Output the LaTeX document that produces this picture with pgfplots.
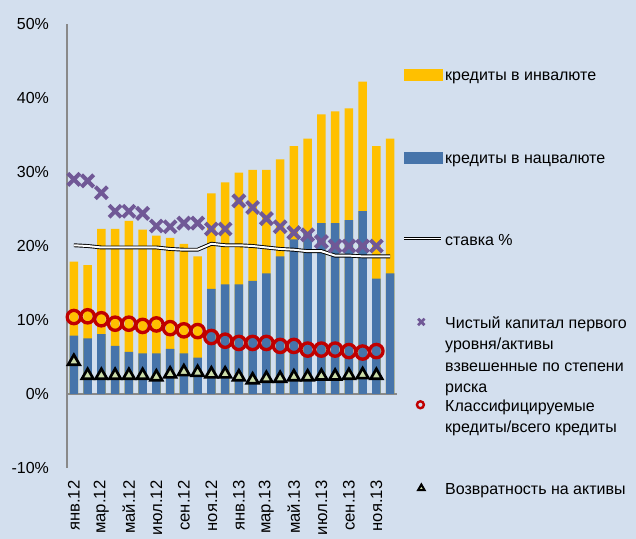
\documentclass[border=0pt]{standalone}
\usepackage{pgfplots}
\usepackage{pgfplotstable}
\pgfplotsset{compat=1.18}
\usepackage{fontspec}
\setmainfont{Liberation Sans}
\definecolor{bg}{RGB}{211,223,238}
\definecolor{barblue}{RGB}{70,116,170}
\definecolor{barorange}{RGB}{255,192,0}
\definecolor{xpurple}{RGB}{112,88,150}
\definecolor{cred}{RGB}{192,0,0}
\definecolor{tgreen}{RGB}{205,222,170}
\definecolor{axgray}{RGB}{137,137,137}

\pgfplotstableread{
x blue total
0 7.9 17.9
1 7.5 17.4
2 8.1 22.3
3 6.5 22.3
4 5.7 23.4
5 5.5 22.2
6 5.5 21.4
7 6.1 21.1
8 5.5 20.3
9 4.9 18.6
10 14.2 27.1
11 14.8 28.6
12 14.8 29.9
13 15.3 30.3
14 16.3 30.3
15 18.6 31.7
16 20.9 33.5
17 21.8 34.5
18 23.1 37.8
19 23.1 38.2
20 23.5 38.6
21 24.7 42.2
22 15.6 33.5
23 16.3 34.5
}\bars

\pgfplotstableread{
x rate tier cls roa
0 20.1 29.0 10.4 4.4
1 20.0 28.8 10.5 2.5
2 19.8 27.2 10.1 2.5
3 19.8 24.7 9.5 2.5
4 19.8 24.7 9.5 2.5
5 19.8 24.4 9.2 2.5
6 19.8 22.7 9.4 2.3
7 19.6 22.6 8.9 2.7
8 19.5 23.1 8.6 3.0
9 19.5 23.1 8.5 2.9
10 20.3 22.3 7.7 2.7
11 20.1 22.3 7.2 2.7
12 20.1 26.1 6.9 2.3
13 20.0 25.2 6.9 1.9
14 19.8 23.7 6.9 2.1
15 19.6 22.6 6.5 2.1
16 19.5 21.8 6.5 2.3
17 19.3 21.5 6.0 2.3
18 19.3 20.6 6.0 2.4
19 18.7 20.0 6.0 2.4
20 18.7 20.0 5.8 2.5
21 18.6 20.0 5.6 2.6
22 18.6 20.0 5.8 2.5
23 18.6 nan nan nan
}\lines

\begin{document}
\begin{tikzpicture}
\fill[bg] (0,0) rectangle (477pt,404.25pt);
\begin{axis}[
  at={(50.25pt,53.25pt)}, anchor=south west,
  scale only axis, width=247.5pt, height=333pt,
  xmin=-0.5, xmax=23.5, ymin=-10, ymax=50,
  axis x line*=bottom, axis y line*=left,
  x axis line style={draw=none},
  y axis line style={axgray, line width=0.8pt},
  axis line style={-},
  tick style={draw=none},
  major tick length=0pt,
  ytick={-10,0,10,20,30,40,50},
  yticklabels={-10\%,0\%,10\%,20\%,30\%,40\%,50\%},
  yticklabel shift=10pt,
  yticklabel style={font=\fontsize{12}{14}\selectfont},
  xtick={0,2,...,22},
  xticklabels={янв.12,мар.12,май.12,июл.12,сен.12,ноя.12,янв.13,мар.13,май.13,июл.13,сен.13,ноя.13},
  xticklabel shift=6pt,
  xticklabel style={rotate=90, anchor=east, font=\fontsize{12.5}{14}\selectfont},
  extra y ticks={0},
  extra y tick labels={},
  extra y tick style={grid=major, major grid style={axgray, line width=0.8pt}},
  legend style={at={(1.0152,0.907)}, anchor=north west, draw=none, fill=none,
    inner xsep=0pt, inner ysep=0pt, row sep=0pt, column sep=0pt,
    font=\fontsize{12}{16}\selectfont,
    cells={anchor=base west},
    nodes={inner sep=2pt, text height=9pt, text depth=49.1pt}},
]
\addplot[ybar, bar width=6.2pt, bar shift=0pt, fill=barorange, draw=none, forget plot] table[x=x,y=total]{\bars};
\addplot[ybar, bar width=6.2pt, bar shift=0pt, fill=barblue, draw=none, forget plot] table[x=x,y=blue]{\bars};
\addplot[black, line width=0.7pt, double=white, double distance=1.5pt, forget plot] table[x=x,y=rate]{\lines};
\addplot[only marks, mark=x, mark size=6.4pt, mark options={xpurple, line width=3pt}, forget plot] table[x=x,y=tier]{\lines};
\addplot[only marks, mark=o, mark size=5pt, mark options={cred, line width=2.5pt}, forget plot] table[x=x,y=cls]{\lines};
\addplot[only marks, mark=triangle*, mark size=5pt, mark options={draw=black, fill=tgreen, line width=2pt}, forget plot] table[x=x,y=roa]{\lines};

\addlegendimage{legend image code/.code={\fill[barorange] (0pt,0pt) rectangle (28.7pt,8pt);}}
\addlegendentry{кредиты в инвалюте}
\addlegendimage{legend image code/.code={\fill[barblue] (0pt,0pt) rectangle (28.7pt,8pt);}}
\addlegendentry{кредиты в нацвалюте}
\addlegendimage{legend image code/.code={\draw[black, line width=0.6pt, double=white, double distance=1.4pt] (0pt,5.5pt) -- (27.5pt,5.5pt); \path (0pt,0pt) (28.7pt,0pt);}}
\addlegendentry{ставка \%}
\addlegendimage{legend image code/.code={\path (0pt,0pt) (28.7pt,0pt); \draw[xpurple, line width=2pt] plot[mark=x, mark size=3.4pt, only marks] coordinates {(13pt,5pt)};}}
\addlegendentry{\parbox[t]{160pt}{Чистый капитал первого\\уровня/активы\\взвешенные по степени\\риска}}
\addlegendimage{legend image code/.code={\path (0pt,0pt) (28.7pt,0pt); \draw[cred, line width=1.8pt] plot[mark=o, mark size=2.6pt, only marks] coordinates {(12.3pt,5pt)};}}
\addlegendentry{\parbox[t]{160pt}{Классифицируемые\\кредиты/всего кредиты}}
\addlegendimage{legend image code/.code={\path (0pt,0pt) (28.7pt,0pt); \draw[black, fill=tgreen, line width=1.5pt] plot[mark=triangle*, mark size=2.8pt, only marks, mark options={draw=black, fill=tgreen}] coordinates {(13pt,4.5pt)};}}
\addlegendentry{Возвратность на активы}
\end{axis}
\pgfresetboundingbox
\useasboundingbox (0,0) rectangle (477pt,404.25pt);
\end{tikzpicture}
\end{document}
